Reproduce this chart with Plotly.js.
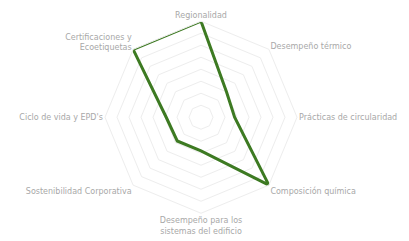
<!DOCTYPE html>
<html>
<head>
<meta charset="utf-8">
<script src="https://cdn.plot.ly/plotly-3.0.1.min.js"></script>
<style>html,body{margin:0;padding:0;background:#fff;}#chart{width:409px;height:241px;}</style>
</head>
<body>
<div id="chart"></div>
<script>
const categories = [
  "Regionalidad",
  "Desempeño térmico",
  "Prácticas de circularidad",
  "Composición química",
  "Desempeño para los<br>sistemas del edificio",
  "Sostenibilidad Corporativa",
  "Ciclo de vida y EPD's",
  "Certificaciones y<br>Ecoetiquetas"
];
const values = [8, 3, 2.8, 8, 2.8, 2.8, 2.9, 8];

const trace = {
  type: "scatterpolar",
  mode: "lines",
  r: values.concat([values[0]]),
  theta: categories.concat([categories[0]]),
  line: {color: "#3d7a22", width: 3},
  fill: "none",
  hoverinfo: "skip"
};

const layout = {
  width: 409,
  height: 241,
  margin: {l: 0, r: 0, t: 0, b: 0},
  paper_bgcolor: "#ffffff",
  plot_bgcolor: "#ffffff",
  showlegend: false,
  font: {family: "'DejaVu Sans', sans-serif", color: "#a8a8a8", size: 8},
  polar: {
    domain: {x: [0.2567, 0.7262], y: [0.1150, 0.9120]},
    bgcolor: "#ffffff",
    gridshape: "linear",
    radialaxis: {
      range: [0, 8],
      dtick: 1,
      showticklabels: false,
      ticks: "",
      showline: false,
      gridcolor: "#ededed",
      gridwidth: 1
    },
    angularaxis: {
      rotation: 90,
      direction: "clockwise",
      showgrid: false,
      showline: true,
      linecolor: "#ededed",
      ticks: "",
      tickfont: {family: "'DejaVu Sans', sans-serif", size: 8, color: "#a8a8a8"}
    }
  }
};

Plotly.newPlot("chart", [trace], layout, {displayModeBar: false, staticPlot: true});
</script>
</body>
</html>
